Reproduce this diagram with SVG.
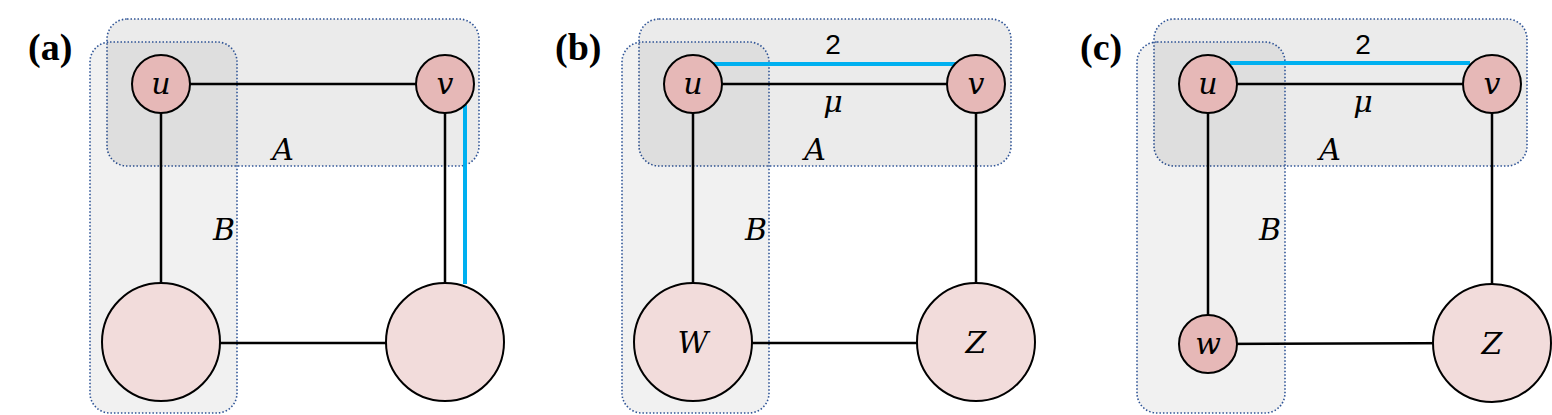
<svg xmlns="http://www.w3.org/2000/svg" width="1552" height="415" viewBox="0 0 1552 415">
<style>
.ga{fill:#000;fill-opacity:0.08;stroke:#2f5496;stroke-width:1.6;stroke-dasharray:1.5 2;}
.gb{fill:#000;fill-opacity:0.055;stroke:#2f5496;stroke-width:1.6;stroke-dasharray:1.5 2;}
.e{stroke:#000;stroke-width:2.5;fill:none}
.bl{stroke:#00b0f0;stroke-width:4;fill:none}
.s{fill:#e6b8b7;stroke:#000;stroke-width:2}
.L{fill:#f2dcdb;stroke:#000;stroke-width:2}
.t{font-family:"DejaVu Serif","Liberation Serif",serif;font-style:italic;font-size:30px;text-anchor:middle}
.p{font-family:"Liberation Serif",serif;font-weight:bold;font-size:38px}
.n{font-family:"Liberation Sans",sans-serif;font-size:28px;text-anchor:middle}
</style>
<g id="groups">
<rect class="ga" x="107" y="19" width="372" height="147" rx="20"/>
<rect class="gb" x="90" y="42" width="147" height="371" rx="20"/>
<rect class="ga" x="639" y="19" width="372" height="147" rx="20"/>
<rect class="gb" x="622" y="42" width="147" height="371" rx="20"/>
<rect class="ga" x="1154" y="19" width="373" height="147" rx="20"/>
<rect class="gb" x="1137" y="42" width="148" height="371" rx="20"/>
</g>
<g id="connectors">
<line class="e" x1="161" y1="84" x2="445" y2="84"/>
<line class="e" x1="161" y1="84" x2="161" y2="342"/>
<line class="e" x1="445" y1="84" x2="445" y2="342"/>
<line class="e" x1="161" y1="343" x2="445" y2="343"/>
<line class="bl" x1="465" y1="105" x2="465" y2="284"/>
<line class="e" x1="693" y1="84" x2="976" y2="84"/>
<line class="e" x1="693" y1="84" x2="693" y2="342"/>
<line class="e" x1="976" y1="84" x2="976" y2="342"/>
<line class="e" x1="693" y1="343" x2="976" y2="343"/>
<line class="bl" x1="713" y1="64" x2="957" y2="64"/>
<line class="e" x1="1208" y1="84" x2="1492" y2="84"/>
<line class="e" x1="1208" y1="84" x2="1208" y2="344"/>
<line class="e" x1="1492" y1="84" x2="1492" y2="343"/>
<line class="e" x1="1208" y1="344" x2="1492" y2="343"/>
<line class="bl" x1="1230" y1="63" x2="1470" y2="63"/>
</g>
<g id="labels">
<text class="p" x="28" y="60">(a)</text>
<text class="p" x="555" y="60">(b)</text>
<text class="p" x="1080" y="60">(c)</text>
<text class="t" x="283" y="160">A</text>
<text class="t" x="224" y="240">B</text>
<text class="t" x="815" y="160">A</text>
<text class="t" x="756" y="240">B</text>
<text class="t" x="1330" y="160">A</text>
<text class="t" x="1270" y="240">B</text>
<text class="n" x="833" y="54">2</text>
<text class="n" x="1363" y="54">2</text>
<text class="t" x="833" y="112">μ</text>
<text class="t" x="1363" y="112">μ</text>
</g>
<g id="a-u"><circle class="s" cx="161" cy="84" r="29"/><text class="t" x="161" y="94">u</text></g>
<g id="a-v"><circle class="s" cx="445" cy="84" r="29"/><text class="t" x="445" y="94">v</text></g>
<g id="a-w"><circle class="L" cx="161" cy="342" r="59"/></g>
<g id="a-z"><circle class="L" cx="445" cy="342" r="59"/></g>
<g id="b-u"><circle class="s" cx="693" cy="84" r="29"/><text class="t" x="693" y="94">u</text></g>
<g id="b-v"><circle class="s" cx="976" cy="84" r="29"/><text class="t" x="976" y="94">v</text></g>
<g id="b-W"><circle class="L" cx="693" cy="342" r="59"/><text class="t" x="693" y="353">W</text></g>
<g id="b-Z"><circle class="L" cx="976" cy="342" r="59"/><text class="t" x="976" y="353">Z</text></g>
<g id="c-u"><circle class="s" cx="1208" cy="84" r="29"/><text class="t" x="1208" y="94">u</text></g>
<g id="c-v"><circle class="s" cx="1492" cy="84" r="29"/><text class="t" x="1492" y="94">v</text></g>
<g id="c-w"><circle class="s" cx="1208" cy="344" r="29"/><text class="t" x="1208" y="354">w</text></g>
<g id="c-Z"><circle class="L" cx="1492" cy="343" r="59"/><text class="t" x="1492" y="354">Z</text></g>
</svg>
